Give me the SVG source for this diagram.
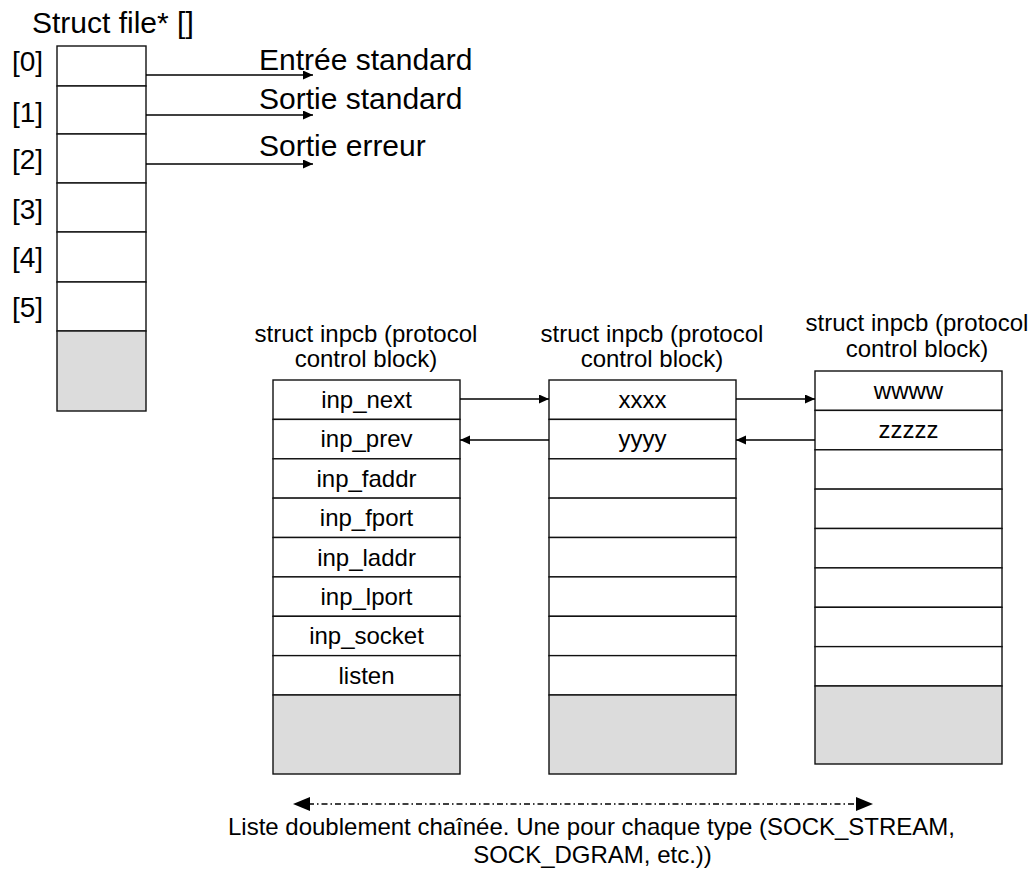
<svg xmlns="http://www.w3.org/2000/svg" width="1033" height="878" viewBox="0 0 1033 878">
<defs>
<style>
text{font-family:"Liberation Sans",Arial,sans-serif;fill:#000}
.big{font-size:30px}
.idx{font-size:28px}
.mid{font-size:24px}
.c{text-anchor:middle}
.cell{fill:#fff;stroke:#111;stroke-width:1.4}
.grey{fill:#dcdcdc;stroke:#111;stroke-width:1.4}
.ln{stroke:#000;stroke-width:1.4;fill:none}
.dash{stroke:#000;stroke-width:1.5;fill:none;stroke-dasharray:6 3 1.5 3}
.head{fill:#000}
</style>
<marker id="ah" markerUnits="userSpaceOnUse" markerWidth="11" markerHeight="10" refX="10" refY="4.5" orient="auto">
<path d="M0,0 L10,4.5 L0,9 z" fill="#000"/>
</marker>
</defs>
<rect width="1033" height="878" fill="#fff"/>

<g id="file-array">
<text class="big" x="32" y="33">Struct file* []</text>
<rect class="cell" x="57" y="46" width="89" height="40"/>
<rect class="cell" x="57" y="86" width="89" height="48"/>
<rect class="cell" x="57" y="134" width="89" height="49"/>
<rect class="cell" x="57" y="183" width="89" height="49"/>
<rect class="cell" x="57" y="232" width="89" height="50"/>
<rect class="cell" x="57" y="282" width="89" height="49"/>
<rect class="grey" x="57" y="331" width="89" height="80"/>
<text class="idx" x="12" y="71">[0]</text>
<text class="idx" x="12" y="122">[1]</text>
<text class="idx" x="12" y="169">[2]</text>
<text class="idx" x="12" y="219">[3]</text>
<text class="idx" x="12" y="267">[4]</text>
<text class="idx" x="12" y="317">[5]</text>
</g>

<g id="std-labels">
<text class="big" x="259" y="70">Entrée standard</text>
<text class="big" x="259" y="109">Sortie standard</text>
<text class="big" x="259" y="156">Sortie erreur</text>
</g>

<g id="inpcb1">
<text class="mid c" x="366" y="342">struct inpcb (protocol</text>
<text class="mid c" x="366" y="367">control block)</text>
<rect class="cell" x="273" y="380" width="187" height="39.4"/>
<rect class="cell" x="273" y="419.4" width="187" height="39.4"/>
<rect class="cell" x="273" y="458.8" width="187" height="39.4"/>
<rect class="cell" x="273" y="498.1" width="187" height="39.4"/>
<rect class="cell" x="273" y="537.5" width="187" height="39.4"/>
<rect class="cell" x="273" y="576.9" width="187" height="39.4"/>
<rect class="cell" x="273" y="616.3" width="187" height="39.4"/>
<rect class="cell" x="273" y="655.6" width="187" height="39.4"/>
<rect class="grey" x="273" y="695" width="187" height="79"/>
<text class="mid c" x="366.5" y="408">inp_next</text>
<text class="mid c" x="366.5" y="447.4">inp_prev</text>
<text class="mid c" x="366.5" y="486.8">inp_faddr</text>
<text class="mid c" x="366.5" y="526.1">inp_fport</text>
<text class="mid c" x="366.5" y="565.5">inp_laddr</text>
<text class="mid c" x="366.5" y="604.9">inp_lport</text>
<text class="mid c" x="366.5" y="644.3">inp_socket</text>
<text class="mid c" x="366.5" y="683.6">listen</text>
</g>

<g id="inpcb2">
<text class="mid c" x="652" y="342">struct inpcb (protocol</text>
<text class="mid c" x="652" y="367">control block)</text>
<rect class="cell" x="549" y="380" width="187" height="39.4"/>
<rect class="cell" x="549" y="419.4" width="187" height="39.4"/>
<rect class="cell" x="549" y="458.8" width="187" height="39.4"/>
<rect class="cell" x="549" y="498.1" width="187" height="39.4"/>
<rect class="cell" x="549" y="537.5" width="187" height="39.4"/>
<rect class="cell" x="549" y="576.9" width="187" height="39.4"/>
<rect class="cell" x="549" y="616.3" width="187" height="39.4"/>
<rect class="cell" x="549" y="655.6" width="187" height="39.4"/>
<rect class="grey" x="549" y="695" width="187" height="79"/>
<text class="mid c" x="642.5" y="408">xxxx</text>
<text class="mid c" x="642.5" y="447.4">yyyy</text>
</g>

<g id="inpcb3">
<text class="mid c" x="917" y="331">struct inpcb (protocol</text>
<text class="mid c" x="917" y="357">control block)</text>
<rect class="cell" x="815" y="371" width="187" height="39.4"/>
<rect class="cell" x="815" y="410.4" width="187" height="39.4"/>
<rect class="cell" x="815" y="449.8" width="187" height="39.4"/>
<rect class="cell" x="815" y="489.1" width="187" height="39.4"/>
<rect class="cell" x="815" y="528.5" width="187" height="39.4"/>
<rect class="cell" x="815" y="567.9" width="187" height="39.4"/>
<rect class="cell" x="815" y="607.3" width="187" height="39.4"/>
<rect class="cell" x="815" y="646.6" width="187" height="39.4"/>
<rect class="grey" x="815" y="686" width="187" height="78"/>
<text class="mid c" x="908.5" y="399">wwww</text>
<text class="mid c" x="908.5" y="438.4">zzzzz</text>
</g>

<g id="connectors">
<line class="ln" x1="146" y1="75" x2="313" y2="75" marker-end="url(#ah)"/>
<line class="ln" x1="146" y1="115" x2="313" y2="115" marker-end="url(#ah)"/>
<line class="ln" x1="146" y1="164" x2="313" y2="164" marker-end="url(#ah)"/>
<line class="ln" x1="460" y1="399" x2="549" y2="399" marker-end="url(#ah)"/>
<line class="ln" x1="549" y1="440" x2="460" y2="440" marker-end="url(#ah)"/>
<line class="ln" x1="736" y1="399" x2="815" y2="399" marker-end="url(#ah)"/>
<line class="ln" x1="815" y1="440" x2="736" y2="440" marker-end="url(#ah)"/>
<line class="dash" x1="308" y1="804" x2="858" y2="804"/>
<polygon class="head" points="293,804 310,797 310,811"/>
<polygon class="head" points="873,804 856,797 856,811"/>
</g>

<g id="caption">
<text class="mid c" x="591.5" y="835">Liste doublement chaînée. Une pour chaque type (SOCK_STREAM,</text>
<text class="mid c" x="592.5" y="863">SOCK_DGRAM, etc.))</text>
</g>
</svg>
